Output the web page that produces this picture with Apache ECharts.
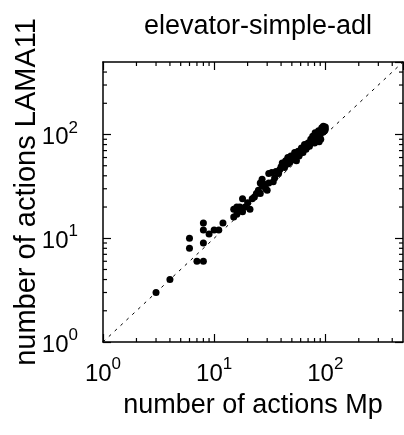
<!DOCTYPE html>
<html>
<head>
<meta charset="utf-8">
<script src="https://cdn.jsdelivr.net/npm/echarts@6/dist/echarts.min.js"></script>
<style>
  html, body { margin: 0; padding: 0; background: #fff; }
  #container { width: 404px; height: 435px; }
</style>
</head>
<body>
<div id="container"></div>
<script>
var dom = document.getElementById("container");
var myChart = echarts.init(dom);

// number of actions Mp (x) vs LAMA11 (y)
var actionsMp = [
  3, 4, 6, 6, 7, 8, 8, 8, 8, 9, 10, 11, 12,
  15, 15, 16, 17, 18, 16, 18, 21, 22, 23, 25, 26, 27, 26, 27, 29, 30, 31, 31, 33, 34,
  36, 39, 40, 41, 43, 44, 46, 48, 49, 51, 55, 53, 57, 58, 61, 63, 65, 67, 70, 72,
  74, 77, 80, 81, 85, 87, 90, 91, 93, 96, 98, 88,
  100, 95, 84, 78, 68, 62, 52, 46, 38, 35, 29, 24, 20, 19, 17, 100, 92, 86, 75, 58
];
var actionsLama = [
  3, 4, 10, 8, 6, 6, 9, 12, 14, 11, 12, 12, 14,
  16, 19, 20, 19, 18, 17, 24, 19, 24, 25, 29, 27, 32, 34, 37, 30, 29, 34, 42, 43, 35,
  44, 46, 49, 53, 48, 56, 60, 54, 62, 57, 56, 67, 69, 64, 74, 67, 80, 72, 83, 77,
  90, 96, 83, 104, 93, 109, 100, 90, 116, 120, 108, 85,
  112, 105, 98, 88, 76, 70, 60, 52, 42, 38, 33, 27, 22, 20, 20, 118, 110, 100, 84, 62
];

var axisMin = 1;
var axisMax = 500;
var diagonal = [[1, 1], [500, 500]];
// minor tick positions on both log axes
var minorTicks = [2, 3, 4, 5, 6, 7, 8, 9, 20, 30, 40, 50, 60, 70, 80, 90, 200, 300, 400];

var points = actionsMp.map(function (x, i) { return [x, actionsLama[i]]; });
var font = 'Liberation Sans';

function powLabel(v) {
  var e = Math.round(Math.log10(v));
  return '{b|10}{s|' + e + '}';
}
var labelRich = {
  b: { fontSize: 24, fontFamily: font, color: '#000', lineHeight: 30, verticalAlign: 'bottom' },
  s: { fontSize: 17, fontFamily: font, color: '#000', lineHeight: 30, verticalAlign: 'bottom', padding: [0, 0, 13, 0] }
};

function logAxis(extra) {
  var base = {
    type: 'log',
    logBase: 10,
    min: axisMin,
    max: axisMax,
    axisLine: { show: true, onZero: false, lineStyle: { color: '#000', width: 1.5 } },
    axisTick: { show: true, inside: true, length: 8, lineStyle: { color: '#000', width: 1.2 } },
    splitLine: { show: false },
    minorTick: { show: false },
    axisLabel: { show: false }
  };
  for (var k in extra) base[k] = extra[k];
  return base;
}

var option = {
  animation: false,
  backgroundColor: '#fff',
  title: {
    text: 'elevator-simple-adl',
    left: 253,
    top: 8,
    textAlign: 'center',
    textStyle: { fontFamily: font, fontWeight: 'normal', fontSize: 27, color: '#000' }
  },
  graphic: [{
    type: 'text',
    x: 27,
    y: 192,
    rotation: Math.PI / 2,
    style: {
      text: 'number of actions LAMA11',
      fontFamily: font,
      fontSize: 29,
      fill: '#000',
      align: 'center',
      verticalAlign: 'middle'
    }
  }],
  grid: { left: 103, top: 62, right: 1, bottom: 93, containLabel: false },
  xAxis: [
    logAxis({
      position: 'bottom',
      name: 'number of actions Mp',
      nameLocation: 'middle',
      nameGap: 50,
      nameTextStyle: { fontFamily: font, fontSize: 27, color: '#000' },
      axisLabel: { show: true, margin: 14, formatter: powLabel, rich: labelRich, showMaxLabel: false }
    }),
    logAxis({ position: 'top' })
  ],
  yAxis: [
    logAxis({
      position: 'left',
      axisLabel: { show: true, margin: 25, formatter: powLabel, rich: labelRich, showMaxLabel: false }
    }),
    logAxis({ position: 'right' })
  ],
  series: [
    {
      type: 'line',
      data: diagonal,
      showSymbol: false,
      silent: true,
      lineStyle: { color: '#000', width: 1, type: [3, 5] }
    },
    {
      type: 'custom',
      silent: true,
      data: minorTicks,
      renderItem: function (params, api) {
        var v = api.value(0);
        var cs = params.coordSys;
        var len = 4;
        var children = [];
        var st = { stroke: '#000', lineWidth: 1.2 };
        if (v < axisMax) {
          var px = api.coord([v, 1])[0];
          children.push({ type: 'line', shape: { x1: px, y1: cs.y + cs.height, x2: px, y2: cs.y + cs.height - len }, style: st });
          children.push({ type: 'line', shape: { x1: px, y1: cs.y, x2: px, y2: cs.y + len }, style: st });
          var py = api.coord([1, v])[1];
          children.push({ type: 'line', shape: { x1: cs.x, y1: py, x2: cs.x + len, y2: py }, style: st });
          children.push({ type: 'line', shape: { x1: cs.x + cs.width, y1: py, x2: cs.x + cs.width - len, y2: py }, style: st });
        }
        return { type: 'group', children: children };
      }
    },
    {
      type: 'scatter',
      data: points,
      symbol: 'circle',
      symbolSize: 7,
      itemStyle: { color: '#000', opacity: 1 }
    }
  ]
};

myChart.setOption(option);
</script>
</body>
</html>
